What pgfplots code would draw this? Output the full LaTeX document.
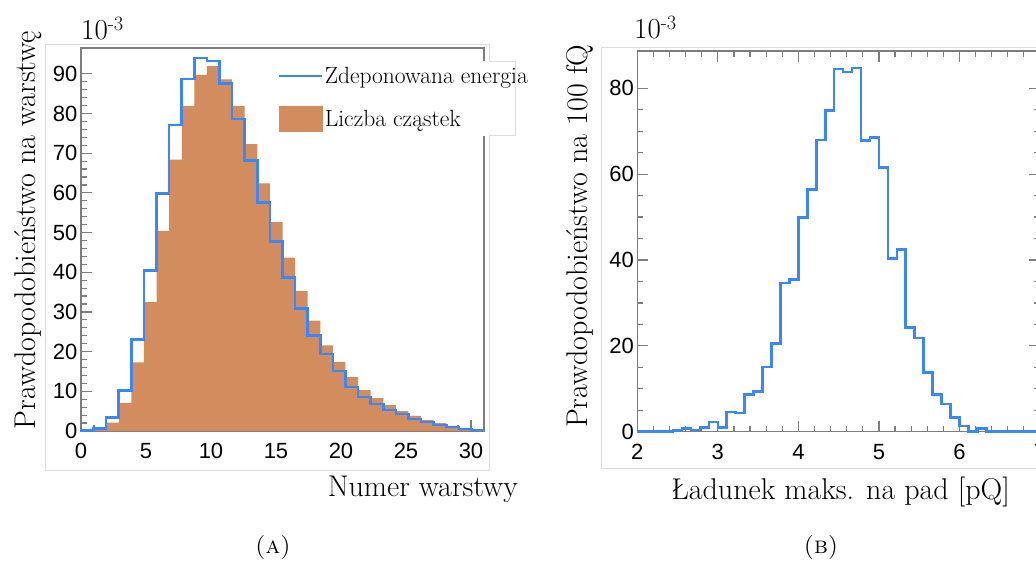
\documentclass[border=0pt]{standalone}
\usepackage{fontspec}
\usepackage{pgfplots}
\pgfplotsset{compat=1.18}
\newfontfamily\ticksans{Liberation Sans}

\definecolor{histblue}{RGB}{58,134,255}
\definecolor{historange}{RGB}{211,140,94}
\definecolor{framegray}{RGB}{125,125,125}
\definecolor{boxgray}{RGB}{222,222,222}

\pgfplotsset{
  rootstyle/.style={
    scale only axis,
    axis line style={framegray, line width=1.4pt},
    major tick length=11pt,
    minor tick length=6pt,
    tick style={framegray, line width=1.2pt},
    tick align=inside,
    tick label style={font=\fontsize{22}{22}\selectfont\ticksans},
    xticklabel style={yshift=-9pt},
    /pgf/number format/assume math mode=true,
    clip=false,
  },
}

\begin{document}
\begin{tikzpicture}[x=1pt,y=1pt]

% (a) layer profile: 32 bins spanning layers 0--31
\begin{axis}[rootstyle,
  at={(81pt,134pt)}, anchor=south west,
  width=403pt, height=383pt,
  xmin=0, xmax=31, ymin=0, ymax=96.5,
  xtick={0,5,...,30}, ytick={0,10,...,90},
  minor x tick num=4, minor y tick num=4,
  tick pos=left,
  legend cell align=left,
  legend style={at={(0.4839,0.966)}, anchor=north west,
    draw=none, fill=white,
    font=\fontsize{23.5}{25}\selectfont,
    row sep=19pt, inner xsep=1pt, inner ysep=4pt,
    nodes={inner xsep=2pt, inner ysep=2pt}},
]
\addlegendimage{histblue, line width=2.6pt,
  legend image code/.code={\draw (0pt,0pt) -- (43pt,0pt);}}
\addlegendentry{Zdeponowana energia}
\addlegendimage{fill=historange, draw=none,
  legend image code/.code={\fill[historange] (0pt,-13pt) rectangle (44pt,13pt);}}
\addlegendentry{Liczba cząstek}

% particle count
\addplot[forget plot, const plot, fill=historange, draw=none] coordinates {
  (0,0.0) (0.96875,0.3) (1.9375,2.1) (2.90625,7.1) (3.875,17.3)
  (4.84375,32.5) (5.8125,50.4) (6.78125,68.4) (7.75,81.9) (8.71875,89.7)
  (9.6875,91.9) (10.65625,88.6) (11.625,81.9) (12.59375,72.3) (13.5625,62.4)
  (14.53125,52.6) (15.5,43.7) (16.46875,35.3) (17.4375,27.8) (18.40625,21.6)
  (19.375,17.4) (20.34375,13.6) (21.3125,10.3) (22.28125,8.3) (23.25,6.5)
  (24.21875,5.0) (25.1875,3.8) (26.15625,2.8) (27.125,2.0) (28.09375,1.3)
  (29.0625,0.8) (30.03125,0.4) (31,0.4)
} \closedcycle;

% deposited energy
\addplot[forget plot, const plot, histblue, line width=2.6pt] coordinates {
  (0,0) (0,0.1) (0.96875,0.6) (1.9375,3.4) (2.90625,10.2) (3.875,23.1)
  (4.84375,40.4) (5.8125,59.9) (6.78125,77.1) (7.75,88.7) (8.71875,94.0)
  (9.6875,93.2) (10.65625,87.5) (11.625,78.6) (12.59375,68.1) (13.5625,57.6)
  (14.53125,47.8) (15.5,38.7) (16.46875,30.9) (17.4375,24.1) (18.40625,19.4)
  (19.375,15.1) (20.34375,11.1) (21.3125,8.6) (22.28125,6.8) (23.25,5.3)
  (24.21875,4.3) (25.1875,3.0) (26.15625,2.3) (27.125,1.5) (28.09375,1.0)
  (29.0625,0.5) (30.03125,0.3) (31,0.3) (31,0)
};
\end{axis}

% (b) maximum pad charge: 45 bins between 2 and 7 pQ
\begin{axis}[rootstyle,
  at={(637.3pt,133.3pt)}, anchor=south west,
  width=402.7pt, height=380.7pt,
  xmin=2, xmax=7, ymin=0, ymax=88.7,
  xtick={2,...,7}, ytick={0,20,...,80},
  minor x tick num=4, minor y tick num=3,
  tick pos=both,
]
\addplot[const plot, histblue, line width=2.6pt] coordinates {
  (2.0000,0) (2.1111,0) (2.2222,0) (2.3333,0) (2.4444,0.3) (2.5556,0.7)
  (2.6667,0.4) (2.7778,1.0) (2.8889,2.3) (3.0000,1.0) (3.1111,4.6)
  (3.2222,4.4) (3.3333,8.6) (3.4444,9.4) (3.5556,15.1) (3.6667,20.5)
  (3.7778,34.6) (3.8889,35.5) (4.0000,49.9) (4.1111,56.4) (4.2222,68.0)
  (4.3333,74.8) (4.4444,84.5) (4.5556,83.8) (4.6667,84.7) (4.7778,67.8)
  (4.8889,68.5) (5.0000,61.6) (5.1111,40.4) (5.2222,42.5) (5.3333,24.3)
  (5.4444,21.8) (5.5556,13.8) (5.6667,8.6) (5.7778,6.5) (5.8889,3.3)
  (6.0000,1.3) (6.1111,0) (6.2222,0.7) (6.3333,0) (6.4444,0) (6.5556,0)
  (6.6667,0) (6.7778,0) (6.8889,0) (7.0000,0)
};
\end{axis}

% outlines of the two canvases
\draw[boxgray, line width=1pt]
  (45,94) -- (45,520) -- (489,520) -- (489,503) -- (515,503)
  -- (515,429) -- (489,429) -- (489,94) -- cycle;
\draw[boxgray, line width=1pt]
  (1100,517.3) -- (601,517.3) -- (601,96) -- (1100,96);

% axis titles and exponents
\begin{scope}[every node/.style={inner sep=0pt}]
\node[rotate=90, anchor=base, font=\fontsize{30}{34}\selectfont]
  at (35,335) {Prawdopodobieństwo na warstwę};
\node[rotate=90, anchor=base, font=\fontsize{30}{34}\selectfont]
  at (587,328.5) {Prawdopodobieństwo na 100 fQ};
\node[anchor=base east, font=\fontsize{30}{34}\selectfont]
  at (518,68) {Numer warstwy};
\node[anchor=base east, font=\fontsize{30}{34}\selectfont]
  at (1010,66) {Ładunek maks. na pad [pQ]};
\node[anchor=base west, font=\fontsize{29}{32}\selectfont]
  at (81,525) {10\textsuperscript{-3}};
\node[anchor=base west, font=\fontsize{29}{32}\selectfont]
  at (634,526) {10\textsuperscript{-3}};
\node[anchor=base, font=\fontsize{24}{26}\selectfont] at (273,12) {\textsc{(a)}};
\node[anchor=base, font=\fontsize{24}{26}\selectfont] at (821,12) {\textsc{(b)}};
\end{scope}

\pgfresetboundingbox
\path[use as bounding box] (0,0) rectangle (1036,565);
\end{tikzpicture}
\end{document}
